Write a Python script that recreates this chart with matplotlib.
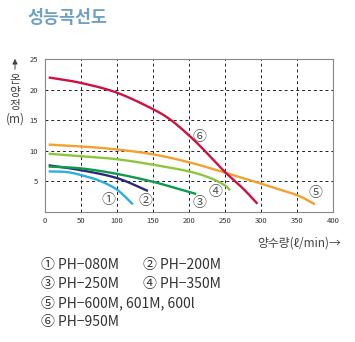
import matplotlib
matplotlib.use("Agg")
import matplotlib.pyplot as plt
import numpy as np

plt.rcParams['font.family'] = ['Noto Sans CJK KR', 'DejaVu Sans']

# Data (flow l/min, head m)
c1_x = [5, 30, 50, 75, 100, 122]
c1_y = [6.6, 6.5, 6.0, 5.1, 3.6, 1.2]
c2_x = [5, 50, 100, 143]
c2_y = [7.6, 6.8, 5.5, 3.4]
c3_x = [5, 50, 100, 150, 180, 210]
c3_y = [7.4, 7.1, 6.2, 4.9, 3.9, 2.9]
c4_x = [5, 50, 100, 150, 200, 230, 250, 257]
c4_y = [9.5, 9.1, 8.6, 7.7, 6.6, 5.5, 4.3, 3.5]
c5_x = [5, 50, 100, 150, 200, 250, 300, 350, 375]
c5_y = [11.0, 10.7, 10.2, 9.4, 8.1, 6.4, 4.6, 2.7, 1.2]
c6_x = [5, 50, 100, 150, 175, 200, 220, 250, 275, 295]
c6_y = [22.0, 21.1, 19.5, 16.8, 15.0, 12.5, 10.2, 6.5, 3.8, 1.3]

series = [
    (c1_x, c1_y, '#2aaee2'),
    (c2_x, c2_y, '#2b2a78'),
    (c3_x, c3_y, '#0e9a4e'),
    (c4_x, c4_y, '#8cc63f'),
    (c5_x, c5_y, '#f4a031'),
    (c6_x, c6_y, '#cf1140'),
]

label_names = ['①', '②', '③', '④', '⑤', '⑥']
label_pos = [(88, 1.9), (140, 1.8), (215, 1.4), (237, 3.2), (375, 3.1), (215, 12.3)]

x_ticks = [0, 50, 100, 150, 200, 250, 300, 350, 400]
y_ticks = [5, 10, 15, 20, 25]

legend_rows = [
    ['① PH−080M', '② PH−200M'],
    ['③ PH−250M', '④ PH−350M'],
    ['⑤ PH−600M, 601M, 600l'],
    ['⑥ PH−950M'],
]


def catmull_rom(xs, ys, n=30):
    p = np.column_stack([xs, ys]).astype(float)
    p = np.vstack([2 * p[0] - p[1], p, 2 * p[-1] - p[-2]])
    out = []
    for i in range(1, len(p) - 2):
        p0, p1, p2, p3 = p[i - 1], p[i], p[i + 1], p[i + 2]
        t = np.linspace(0, 1, n, endpoint=False)[:, None]
        seg = 0.5 * ((2 * p1) + (-p0 + p2) * t + (2 * p0 - 5 * p1 + 4 * p2 - p3) * t ** 2
                     + (-p0 + 3 * p1 - 3 * p2 + p3) * t ** 3)
        out.append(seg)
    out.append(p[-2][None, :])
    out = np.vstack(out)
    return out[:, 0], out[:, 1]


fig = plt.figure(figsize=(3.55, 3.42), dpi=100)
ax = fig.add_axes([0.127, 0.381, 0.811, 0.446])

for xs, ys, col in series:
    sx, sy = catmull_rom(xs, ys)
    ax.plot(sx, sy, color=col, lw=1.7, solid_capstyle='butt')

for name, (lx, ly) in zip(label_names, label_pos):
    ax.text(lx, ly, name, fontsize=10, color='#555555', ha='center', va='center')

ax.set_xlim(0, 400)
ax.set_ylim(0, 25)
ax.set_xticks(x_ticks)
ax.set_yticks(y_ticks)
ax.tick_params(axis='both', length=0, labelsize=5.5, colors='#333333')
ax.tick_params(axis='x', pad=4)
ax.tick_params(axis='y', pad=5)
ax.grid(True, color='#222222', linestyle=(0, (3, 3)), linewidth=0.7)
for s in ax.spines.values():
    s.set_color('#888888')
    s.set_linewidth(0.8)

# Title
fig.text(27 / 355, 1 - 18 / 342, '성능곡선도', fontsize=12.5, fontweight='bold',
         color='#6fa1c4', ha='left', va='center')

# Y label (stacked)
lab_col = '#444444'
fx = 15 / 355
fig.add_artist(matplotlib.patches.FancyArrowPatch(
    (fx, 1 - 72 / 342), (fx, 1 - 56 / 342), transform=fig.transFigure,
    arrowstyle='-|>,head_length=3,head_width=1.5', color=lab_col, lw=0.7))
for ch, yy in zip(['온', '양', '정'], [80, 93, 106]):
    fig.text(fx, 1 - yy / 342, ch, fontsize=8.5, color=lab_col, ha='center', va='center')
fig.text(fx, 1 - 119 / 342, '(m)', fontsize=8.5, color=lab_col, ha='center', va='center')

# X label
fig.text(341 / 355, 1 - 243 / 342, '양수량(ℓ/min)→', fontsize=8.5, color=lab_col,
         ha='right', va='center')

# Legend text
row_y = [265, 284, 303, 322]
col_x = [41, 143]
for r, row in enumerate(legend_rows):
    for c, txt in enumerate(row):
        fig.text(col_x[c] / 355, 1 - row_y[r] / 342, txt, fontsize=10, color='#333333',
                 ha='left', va='center')

fig.savefig('out.png', dpi=100)
